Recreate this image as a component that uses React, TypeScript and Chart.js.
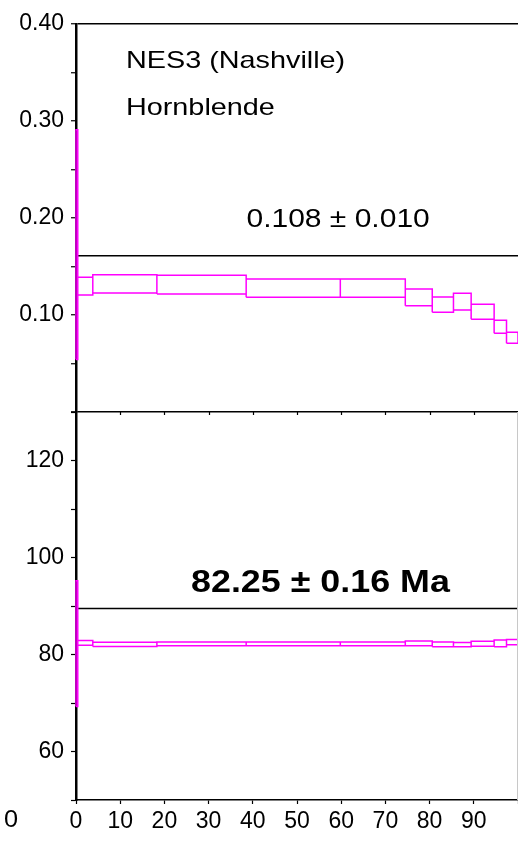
import React, { useEffect, useRef } from 'react';
import { Chart, registerables } from 'chart.js';

Chart.register(...registerables);

// ---- data ----
const stepEdges = [0, 0.4, 3.8, 18.3, 38.5, 59.8, 74.5, 80.6, 85.4, 89.4, 94.6, 97.4, 100];
const ratioValues = [0.1725, 0.1298, 0.1321, 0.1313, 0.1277, 0.1277, 0.1182, 0.1107, 0.1138, 0.1033, 0.0878, 0.0765];
const ratioErrors = [0.1185, 0.0092, 0.0094, 0.0097, 0.0095, 0.0095, 0.0086, 0.0079, 0.0086, 0.0077, 0.0067, 0.0057];
const ageValues = [82.25, 82.4, 82.1, 82.2, 82.2, 82.2, 82.3, 82.1, 82.05, 82.2, 82.3, 82.55];
const ageErrors = [12.95, 0.5, 0.43, 0.4, 0.4, 0.4, 0.48, 0.5, 0.45, 0.52, 0.68, 0.55];
const ratioPlateau = 0.161;
const agePlateau = 89.5;
const ratioTickLabels = [0.1, 0.2, 0.3, 0.4];
const ageTickLabels = [60, 80, 100, 120];
const xTickLabels = [0, 10, 20, 30, 40, 50, 60, 70, 80, 90];
const sampleName = 'NES3 (Nashville)';
const mineralName = 'Hornblende';
const ratioLabel = '0.108 ± 0.010';
const ageLabel = '82.25 ± 0.16 Ma';
const strayLabel = '0';

const FONT = '"Liberation Sans", Arial, Helvetica, sans-serif';
const MAGENTA = '#ff00ff';

const near = (a: number, b: number) => Math.abs(a - b) < 1e-9;

function boxPoints(values: number[], errors: number[]) {
  const pts: { x: number; y: number | null }[] = [];
  values.forEach((v, i) => {
    const x0 = stepEdges[i];
    const x1 = stepEdges[i + 1];
    const lo = v - errors[i];
    const hi = v + errors[i];
    pts.push({ x: x0, y: lo }, { x: x1, y: lo }, { x: x1, y: hi }, { x: x0, y: hi }, { x: x0, y: lo }, { x: x1, y: null });
  });
  return pts;
}

function drawStretched(
  ctx: CanvasRenderingContext2D,
  text: string,
  x: number,
  y: number,
  font: string,
  sx: number,
  align: CanvasTextAlign
) {
  ctx.save();
  ctx.font = font;
  ctx.fillStyle = '#000';
  ctx.textBaseline = 'middle';
  ctx.textAlign = align;
  ctx.translate(x, y);
  ctx.scale(sx, 1);
  ctx.fillText(text, 0, 0);
  ctx.restore();
}

const annotations = {
  id: 'annotations',
  afterDraw(chart: any) {
    const { ctx, scales, chartArea } = chart;
    const xs = scales.x;
    const yR = scales.yR;
    const yA = scales.yA;
    // small ticks on the divider between the panels
    ctx.save();
    ctx.strokeStyle = '#000';
    ctx.lineWidth = 1.2;
    xTickLabels.forEach((v) => {
      if (v === 0) return;
      const px = Math.round(xs.getPixelForValue(v)) + 0.5;
      ctx.beginPath();
      ctx.moveTo(px, yA.top);
      ctx.lineTo(px, yA.top + 3);
      ctx.stroke();
    });
    // faint right border of the lower panel
    ctx.strokeStyle = '#c8c8c8';
    ctx.lineWidth = 1;
    ctx.beginPath();
    ctx.moveTo(chartArea.right - 0.5, yA.top);
    ctx.lineTo(chartArea.right - 0.5, yA.bottom);
    ctx.stroke();
    ctx.restore();

    drawStretched(ctx, sampleName, xs.getPixelForValue(11.3), yR.getPixelForValue(0.361), `24px ${FONT}`, 1.2, 'left');
    drawStretched(ctx, mineralName, xs.getPixelForValue(11.3), yR.getPixelForValue(0.313), `24px ${FONT}`, 1.2, 'left');
    drawStretched(ctx, ratioLabel, xs.getPixelForValue(59.3), yR.getPixelForValue(0.198), `25px ${FONT}`, 1.2, 'center');
    drawStretched(ctx, ageLabel, xs.getPixelForValue(55.3), yA.getPixelForValue(94.8), `bold 32px ${FONT}`, 1.12, 'center');
    drawStretched(ctx, strayLabel, xs.getPixelForValue(-14.7), chartArea.bottom + 21, `23px ${FONT}`, 1.1, 'center');
  },
};

export default function App() {
  const canvasRef = useRef<HTMLCanvasElement | null>(null);

  useEffect(() => {
    if (!canvasRef.current) return;
    const tickFont = { family: FONT, size: 23 };
    const chart = new Chart(canvasRef.current, {
      type: 'line',
      data: {
        datasets: [
          {
            label: 'ratio steps',
            data: boxPoints(ratioValues, ratioErrors) as any,
            yAxisID: 'yR',
            borderColor: MAGENTA,
            borderWidth: 1.5,
            pointRadius: 0,
            fill: false,
            tension: 0,
            spanGaps: false,
            clip: false as any,
          },
          {
            label: 'ratio plateau',
            data: [{ x: 0, y: ratioPlateau }, { x: 100, y: ratioPlateau }] as any,
            yAxisID: 'yR',
            borderColor: '#000',
            borderWidth: 1.5,
            pointRadius: 0,
            fill: false,
          },
          {
            label: 'age steps',
            data: boxPoints(ageValues, ageErrors) as any,
            yAxisID: 'yA',
            borderColor: MAGENTA,
            borderWidth: 1.5,
            pointRadius: 0,
            fill: false,
            tension: 0,
            spanGaps: false,
            clip: false as any,
          },
          {
            label: 'age plateau',
            data: [{ x: 0, y: agePlateau }, { x: 100, y: agePlateau }] as any,
            yAxisID: 'yA',
            borderColor: '#000',
            borderWidth: 1.5,
            pointRadius: 0,
            fill: false,
          },
        ],
      },
      options: {
        animation: false,
        responsive: true,
        maintainAspectRatio: false,
        layout: { padding: { top: 24, left: 0, right: 0, bottom: 0 } },
        plugins: { legend: { display: false }, tooltip: { enabled: false }, title: { display: false } },
        events: [],
        scales: {
          x: {
            type: 'linear',
            position: 'bottom',
            min: 0,
            max: 100,
            afterFit: (s: any) => {
              s.height = 45;
              s.paddingRight = 0;
            },
            border: { display: true, color: '#000', width: 1.5 },
            grid: { drawOnChartArea: false, drawTicks: true, tickLength: 4, tickColor: '#000', tickWidth: 1.2 },
            ticks: {
              stepSize: 10,
              autoSkip: false,
              maxRotation: 0,
              color: '#000',
              font: tickFont,
              padding: 4,
              callback: (v: any) => (xTickLabels.includes(Number(v)) ? String(v) : ''),
            },
          },
          yA: {
            type: 'linear',
            position: 'left',
            stack: 'panels',
            stackWeight: 1,
            min: 50,
            max: 130,
            afterFit: (s: any) => {
              s.width = 76;
            },
            border: { display: true, color: '#000', width: 2.5 },
            grid: {
              drawOnChartArea: false,
              tickLength: 5,
              tickColor: '#000',
              tickWidth: 1.2,
            },
            ticks: {
              stepSize: 10,
              autoSkip: false,
              color: '#000',
              font: tickFont,
              padding: 7,
              callback: (v: any) => (ageTickLabels.includes(Number(v)) ? String(v) : ''),
            },
          },
          yR: {
            type: 'linear',
            position: 'left',
            stack: 'panels',
            stackWeight: 1,
            min: 0,
            max: 0.4,
            afterFit: (s: any) => {
              s.width = 76;
            },
            border: { display: true, color: '#000', width: 2.5 },
            grid: {
              drawOnChartArea: true,
              color: (c: any) =>
                c.tick && (near(c.tick.value, 0.4) || near(c.tick.value, 0)) ? '#000' : 'rgba(0,0,0,0)',
              lineWidth: 1.5,
              tickLength: 5,
              tickColor: '#000',
              tickWidth: 1.2,
            },
            ticks: {
              stepSize: 0.05,
              autoSkip: false,
              color: '#000',
              font: tickFont,
              padding: 7,
              callback: (v: any) => (ratioTickLabels.some((t) => near(t, Number(v))) ? Number(v).toFixed(2) : ''),
            },
          },
        } as any,
      },
      plugins: [annotations],
    });
    return () => chart.destroy();
  }, []);

  return (
    <div style={{ position: 'absolute', left: 0, top: 0, width: 518, height: 845, background: '#fff' }}>
      <canvas ref={canvasRef} />
    </div>
  );
}
